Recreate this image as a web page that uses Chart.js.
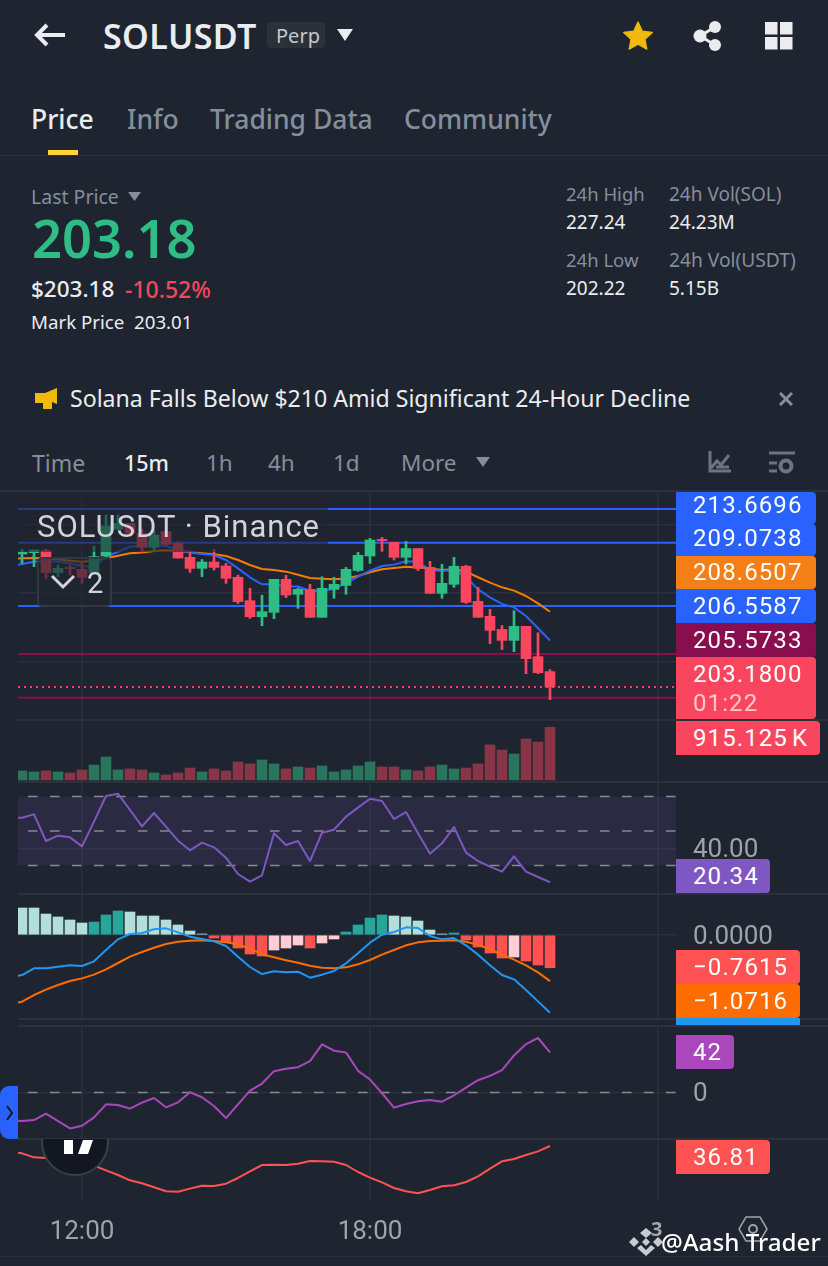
<!DOCTYPE html>
<html>
<head>
<meta charset="utf-8">
<title>SOLUSDT Perp</title>
<script src="https://cdn.jsdelivr.net/npm/chart.js@4/dist/chart.umd.min.js"></script>
<style>
  html, body { margin: 0; padding: 0; background: #1f2530; }
  body { position: relative; width: 828px; height: 1266px; overflow: hidden; font-family: "Noto Sans", sans-serif; }
  .t { position: absolute; white-space: nowrap; line-height: 1; transform: translateY(-50%); }
  .grey { color: #848e9c; }
  .white { color: #eaecef; }
  canvas { position: absolute; left: 0; display: block; }
  .sep { position: absolute; height: 2px; background: #2b303a; }
  .tag { position: absolute; left: 676px; color: #fff; font-family: Roboto, sans-serif; font-size: 24px;
         letter-spacing: 1.1px; padding-left: 17px; box-sizing: border-box; border-radius: 0 4px 4px 0;
         display: flex; align-items: center; white-space: nowrap; }
  svg { position: absolute; }
</style>
</head>
<body>

<!-- header -->
<svg style="left:34px;top:22px" width="34" height="26" viewBox="0 0 34 26"><path d="M31 13H4M13 3L3 13l10 10" fill="none" stroke="#eaecef" stroke-width="4"/></svg>
<div class="t white" style="left:103px;top:36px;font-size:34px;font-weight:600;letter-spacing:.4px">SOLUSDT</div>
<div style="position:absolute;left:267px;top:22px;width:58px;height:26px;background:#2b3139;border-radius:4px"></div>
<div class="t" style="left:276px;top:36px;font-size:20px;color:#c4c9d1">Perp</div>
<svg style="left:337px;top:29px" width="16" height="12"><path d="M0 0h16L8 12z" fill="#eaecef"/></svg>
<svg style="left:622px;top:20px" width="32" height="32" viewBox="0 0 24 24"><path d="M12 1.5l3.2 6.9 7.5.9-5.5 5.1 1.4 7.4L12 18.2l-6.6 3.6 1.4-7.4L1.300 9.300l7.5-.9z" fill="#f0b90b" stroke="#f0b90b" stroke-linejoin="round"/></svg>
<svg style="left:692px;top:20px" width="32" height="32"><circle cx="8" cy="16" r="6.500" fill="#eaecef"/><circle cx="23" cy="7" r="6" fill="#eaecef"/><circle cx="23" cy="25" r="6" fill="#eaecef"/><path d="M23 7L8 16l15 9" fill="none" stroke="#eaecef" stroke-width="3"/></svg>
<svg style="left:765px;top:22px" width="28" height="28"><path d="M0 0h12.500v12.500H0zM15 0h12.500v12.500H15zM0 15h12.500v12.500H0zM15 15h12.500v12.500H15z" fill="#eaecef"/></svg>

<!-- tabs -->
<div class="t white" style="left:31px;top:119px;font-size:26.500px;font-weight:500">Price</div>
<div class="t grey" style="left:127px;top:119px;font-size:26.500px;font-weight:500">Info</div>
<div class="t grey" style="left:210px;top:119px;font-size:26.500px;font-weight:500">Trading Data</div>
<div class="t grey" style="left:404px;top:119px;font-size:26.500px;font-weight:500">Community</div>
<div style="position:absolute;left:48px;top:150px;width:30px;height:5px;background:#fcd535"></div>
<div class="sep" style="left:0;top:155px;width:828px;height:1px"></div>

<!-- price block -->
<div class="t grey" style="left:31px;top:197px;font-size:19.500px">Last Price</div>
<svg style="left:128px;top:192px" width="13" height="9"><path d="M0 0h13L6.500 9z" fill="#848e9c"/></svg>
<div class="t" style="left:32px;top:238px;font-size:52.500px;font-weight:600;color:#2ebd85">203.18</div>
<div class="t white" style="left:31px;top:289px;font-size:22.500px;font-weight:500">$203.18</div>
<div class="t" style="left:125px;top:289px;font-size:23px;font-weight:500;color:#f6465d">-10.52%</div>
<div class="t white" style="left:31px;top:322px;font-size:18.700px">Mark Price</div>
<div class="t white" style="left:134px;top:322px;font-size:18.700px">203.01</div>

<div class="t grey" style="left:566px;top:194px;font-size:18.500px">24h High</div>
<div class="t white" style="left:566px;top:222px;font-size:19px">227.24</div>
<div class="t grey" style="left:566px;top:260px;font-size:18.500px">24h Low</div>
<div class="t white" style="left:566px;top:288px;font-size:19px">202.22</div>
<div class="t grey" style="left:669px;top:194px;font-size:19px">24h Vol(SOL)</div>
<div class="t white" style="left:669px;top:222px;font-size:19px">24.23M</div>
<div class="t grey" style="left:669px;top:260px;font-size:19.200px">24h Vol(USDT)</div>
<div class="t white" style="left:669px;top:288px;font-size:19px">5.15B</div>

<!-- notice -->
<svg style="left:34px;top:387px" width="24" height="23"><path d="M1 6h10L23 1v16l-5-2v7h-9v-6H1z" fill="#f0b90b"/></svg>
<div class="t white" style="left:70px;top:399px;font-size:23.100px">Solana Falls Below $210 Amid Significant 24-Hour Decline</div>
<svg style="left:779px;top:392px" width="14" height="14"><path d="M1 1l12 12M13 1L1 13" stroke="#848e9c" stroke-width="3"/></svg>

<!-- intervals -->
<div class="t grey" style="left:32px;top:463px;font-size:23px">Time</div>
<div class="t" style="left:124px;top:463px;font-size:21.500px;font-weight:500;color:#eaecef">15m</div>
<div class="t grey" style="left:206px;top:463px;font-size:22.500px">1h</div>
<div class="t grey" style="left:268px;top:463px;font-size:22.500px">4h</div>
<div class="t grey" style="left:333px;top:463px;font-size:22.500px">1d</div>
<div class="t grey" style="left:401px;top:463px;font-size:22.500px">More</div>
<svg style="left:476px;top:457px" width="14" height="10"><path d="M0 0h14L7 10z" fill="#848e9c"/></svg>
<svg style="left:708px;top:450px" width="24" height="24"><path d="M2 1v20h21M3 18l6-7 4 4 8-10M8 17h13" fill="none" stroke="#6c7480" stroke-width="3"/></svg>
<svg style="left:768px;top:450px" width="28" height="26"><path d="M1 3h26M1 13h8M1 21h8" fill="none" stroke="#6c7480" stroke-width="3"/><circle cx="18" cy="16" r="5.500" fill="none" stroke="#6c7480" stroke-width="4"/></svg>

<!-- panes -->
<div class="sep" style="left:0;top:490px;width:828px"></div>
<canvas id="pricePane" width="828" height="229" style="top:491px"></canvas>
<div class="sep" style="left:18px;top:719px;width:810px"></div>
<canvas id="volumePane" width="828" height="62" style="top:720px"></canvas>
<div class="sep" style="left:18px;top:781px;width:810px"></div>
<canvas id="rsiPane" width="828" height="112" style="top:782px"></canvas>
<div class="sep" style="left:18px;top:893px;width:810px"></div>
<canvas id="macdPane" width="828" height="125" style="top:894px"></canvas>
<div class="sep" style="left:18px;top:1018px;width:810px"></div>
<div class="sep" style="left:18px;top:1025px;width:810px"></div>
<canvas id="cciPane" width="828" height="113" style="top:1026px"></canvas>
<div class="sep" style="left:18px;top:1138px;width:810px"></div>
<canvas id="adxPane" width="828" height="117" style="top:1139px"></canvas>
<div class="sep" style="left:0;top:1256px;width:828px;height:1px"></div>

<!-- chart overlays -->
<div style="position:absolute;left:18px;top:492px;width:310px;height:60px;background:rgba(31,37,48,.6)"></div>
<div class="t" style="left:37px;top:526px;font-family:Roboto,sans-serif;font-size:31px;letter-spacing:1px;color:#d1d4dc">SOLUSDT · Binance</div>
<div style="position:absolute;left:37px;top:557px;width:75px;height:50px;box-sizing:border-box;border:2px solid #323742;border-radius:5px;background:rgba(31,37,48,.65)"></div>
<svg style="left:50px;top:574px" width="26" height="16"><path d="M2 2l11 11L24 2" fill="none" stroke="#d1d4dc" stroke-width="3"/></svg>
<div class="t" style="left:87px;top:583px;font-family:Roboto,sans-serif;font-size:29px;color:#d1d4dc">2</div>

<div style="position:absolute;left:40px;top:1139px;width:70px;height:38px;overflow:hidden">
  <svg style="left:0;top:0" width="70" height="38"><circle cx="35" cy="3" r="33" fill="#131722" stroke="#3b3f49" stroke-width="2"/><path d="M24 1h9v14h-9zM43 1h10l-5 14H38z" fill="#fff"/></svg>
</div>
<div style="position:absolute;left:0;top:1086px;width:18px;height:53px;background:#2962ff;border-radius:9px 0 0 9px"></div>
<svg style="left:5px;top:1105px" width="9" height="16"><path d="M2 1l5 7-5 7" fill="none" stroke="#131722" stroke-width="2"/></svg>

<!-- value tags -->
<div class="tag" style="top:492px;height:32px;width:140px;background:#2962ff;padding-bottom:7px">213.6696</div>
<div class="tag" style="top:524px;height:31.500px;width:140px;background:#2962ff;padding-bottom:3px">209.0738</div>
<div class="tag" style="top:555.500px;height:33.500px;width:140px;background:#f57f17">208.6507</div>
<div class="tag" style="top:589px;height:34px;width:140px;background:#2962ff">206.5587</div>
<div class="tag" style="top:623px;height:34px;width:140px;background:#880e4f">205.5733</div>
<div class="tag" style="top:657px;height:62px;width:140px;background:#f9465e;display:block;padding-top:3px;line-height:29px">203.1800<br><span style="opacity:.7">01:22</span></div>
<div class="tag" style="top:721px;height:34px;width:144px;background:#f9465e;word-spacing:-3px">915.125 K</div>
<div class="tag" style="top:859px;height:34px;width:94px;background:#7e57c2">20.34</div>
<div class="tag" style="top:950px;height:34px;width:124px;background:#ff5252">−0.7615</div>
<div class="tag" style="top:984px;height:34px;width:124px;background:#ff6d00">−1.0716</div>
<div class="tag" style="top:1018px;height:7px;width:124px;background:#2196f3;border-radius:0"></div>
<div class="tag" style="top:1035px;height:34px;width:58px;background:#ab47bc">42</div>
<div class="tag" style="top:1140px;height:34px;width:94px;background:#ff5252">36.81</div>

<!-- watermark -->
<svg style="left:629px;top:1227px" width="34" height="30" viewBox="0 0 34 30"><path d="M17 1l6 5-6 5-6-5zM5 10l5 5-5 5-5-5zM29 10l5 5-5 5-5-5zM17 11l4 4-4 4-4-4zM17 29L8 21l4-3 5 5 5-5 4 3z" fill="#c8ccd2"/></svg>
<div class="t" style="left:651px;top:1229px;font-size:20px;font-weight:700;color:#a1a5ad">3</div>
<svg style="left:738px;top:1215px" width="30" height="28"><path d="M8 2h14l7 12-7 12H8L1 14z" fill="none" stroke="#9ea3ab" stroke-width="1.500"/><circle cx="15" cy="14" r="4" fill="none" stroke="#9ea3ab" stroke-width="2"/></svg>
<div class="t" style="left:661px;top:1242px;font-size:24.200px;font-weight:500;color:#fff">@Aash Trader</div>

<script>
// ── Data ────────────────────────────────────────────
const candleIndex = Array.from({ length: 45 }, (_, i) => i);

const opens = [212.85, 212.95, 213.09, 211.50, 211.88, 211.74, 211.50, 212.71, 214.65, 215.08, 214.36, 213.34, 214.48, 213.63, 212.61, 211.81, 212.27, 211.98, 211.16, 209.46, 208.29, 208.61, 211.01, 209.92, 210.28, 208.25, 210.28, 210.57, 211.65, 212.71, 213.92, 213.70, 212.61, 213.25, 211.88, 209.99, 210.65, 211.96, 209.41, 208.32, 207.37, 206.57, 207.59, 205.39, 204.30];
const closes = [213.00, 213.14, 211.50, 211.81, 211.79, 211.16, 212.66, 214.89, 215.08, 214.36, 213.34, 214.23, 213.56, 212.56, 211.81, 212.27, 211.88, 211.08, 209.39, 208.29, 208.66, 211.01, 209.87, 210.28, 208.25, 210.36, 210.65, 211.74, 212.76, 213.87, 213.82, 212.61, 213.25, 211.81, 209.99, 210.72, 211.96, 209.34, 208.25, 207.30, 206.57, 207.59, 205.24, 204.22, 203.18];
const highs = [213.19, 213.14, 213.19, 212.05, 212.05, 212.30, 213.43, 215.69, 215.69, 215.08, 214.65, 214.60, 214.65, 213.75, 213.02, 212.45, 213.19, 212.17, 211.32, 210.36, 209.85, 211.01, 211.30, 210.36, 210.65, 211.20, 211.16, 211.88, 212.97, 213.99, 214.06, 213.70, 213.77, 213.25, 212.32, 212.10, 212.61, 212.03, 210.43, 208.83, 207.65, 208.73, 207.59, 207.13, 204.44];
const lows = [212.17, 211.93, 211.08, 211.20, 211.32, 210.72, 211.50, 212.66, 214.60, 214.23, 212.95, 213.02, 213.51, 212.56, 211.52, 211.20, 211.69, 210.72, 209.26, 208.17, 207.64, 208.15, 209.68, 208.90, 208.25, 208.25, 209.63, 209.92, 211.59, 212.17, 213.05, 212.42, 212.13, 211.65, 209.99, 209.63, 210.43, 209.26, 208.25, 206.33, 205.90, 205.75, 204.15, 204.15, 202.26];
const volumes = [156, 139, 156, 139, 122, 174, 260, 399, 174, 191, 174, 122, 87, 122, 208, 139, 191, 156, 313, 278, 347, 278, 191, 226, 208, 243, 139, 174, 243, 313, 226, 226, 174, 156, 226, 260, 191, 208, 278, 608, 521, 451, 712, 660, 915.125];
const histogram = [0.628, 0.628, 0.488, 0.419, 0.349, 0.279, 0.302, 0.465, 0.558, 0.535, 0.442, 0.442, 0.349, 0.233, 0.093, 0.023, -0.070, -0.163, -0.302, -0.442, -0.488, -0.349, -0.302, -0.233, -0.302, -0.186, -0.093, 0.070, 0.233, 0.395, 0.465, 0.442, 0.419, 0.326, 0.116, 0.023, 0.047, -0.116, -0.279, -0.419, -0.535, -0.512, -0.605, -0.698, -0.7615];

// Line series: the first value belongs to the candle just off the left edge
const maFast = [211.98, 212.12, 212.29, 212.37, 212.29, 212.17, 211.98, 211.93, 212.66, 213.02, 213.39, 213.43, 213.51, 213.43, 213.14, 212.97, 212.85, 212.78, 212.42, 211.81, 211.16, 210.65, 210.65, 210.49, 210.49, 210.16, 210.16, 210.31, 210.72, 211.20, 211.64, 211.98, 212.08, 212.32, 212.29, 211.69, 211.62, 211.69, 211.16, 210.28, 209.70, 209.22, 208.97, 208.34, 207.45, 206.5587];
const maSlow = [212.51, 212.54, 212.56, 212.54, 212.45, 212.37, 212.29, 212.37, 212.54, 212.73, 212.90, 212.97, 213.07, 213.12, 213.07, 213.00, 212.90, 212.83, 212.71, 212.42, 212.05, 211.76, 211.69, 211.57, 211.35, 211.11, 211.06, 211.01, 211.08, 211.25, 211.52, 211.74, 211.83, 211.93, 211.88, 211.79, 211.69, 211.74, 211.57, 211.16, 210.77, 210.43, 210.19, 209.80, 209.26, 208.6507];
const rsi = [57.73, 57.73, 59.66, 44.20, 47.29, 46.33, 41.11, 55.41, 70.29, 71.64, 62.17, 52.71, 60.43, 52.51, 44.39, 38.79, 43.24, 40.53, 34.54, 25.07, 20.63, 24.30, 48.65, 41.88, 44.20, 32.61, 49.03, 50.77, 58.31, 63.53, 68.74, 67.39, 56.96, 61.01, 48.65, 36.86, 42.85, 52.32, 37.44, 32.61, 29.32, 26.42, 35.31, 26.42, 23.33, 20.34];
const macdLine = [-0.977, -0.930, -0.775, -0.775, -0.736, -0.705, -0.721, -0.612, -0.349, -0.101, 0.023, 0.047, 0.132, 0.155, 0.062, -0.039, -0.093, -0.147, -0.256, -0.504, -0.744, -0.907, -0.845, -0.868, -0.853, -0.992, -0.922, -0.837, -0.659, -0.426, -0.178, 0.008, 0.070, 0.178, 0.163, -0.023, -0.101, -0.070, -0.240, -0.457, -0.705, -0.930, -1.031, -1.279, -1.543, -1.806];
const signalLine = [-1.605, -1.550, -1.395, -1.271, -1.163, -1.070, -1.008, -0.922, -0.798, -0.651, -0.504, -0.395, -0.295, -0.209, -0.155, -0.132, -0.124, -0.140, -0.171, -0.217, -0.310, -0.450, -0.519, -0.589, -0.643, -0.713, -0.760, -0.775, -0.752, -0.682, -0.581, -0.457, -0.349, -0.240, -0.171, -0.140, -0.132, -0.124, -0.155, -0.225, -0.333, -0.457, -0.574, -0.705, -0.868, -1.0716];
const cci = [-29.05, -29.75, -28.70, -22.05, -29.75, -37.45, -34.65, -25.90, -12.25, -12.95, -16.80, -10.50, -5.60, -15.40, -10.15, 0.35, -4.90, -14.00, -26.60, -12.25, 2.10, 9.45, 22.40, 24.85, 26.60, 32.90, 50.40, 43.75, 42.00, 22.75, 13.65, -0.70, -15.75, -11.90, -9.10, -7.70, -9.45, -2.80, 5.25, 12.95, 17.50, 23.45, 38.85, 50.75, 57.05, 42.00];
const adx = [34.17, 33.40, 31.54, 31.23, 30.76, 29.99, 29.06, 27.66, 25.50, 23.33, 20.84, 19.45, 17.59, 15.73, 15.57, 16.97, 18.36, 18.21, 19.29, 21.93, 25.03, 27.97, 28.13, 27.97, 28.59, 29.83, 29.68, 29.52, 27.97, 24.72, 22.08, 19.91, 17.28, 15.73, 14.80, 16.35, 18.05, 18.52, 20.07, 22.70, 26.27, 29.68, 30.76, 32.62, 34.33, 36.81];

// Horizontal levels
const blueLevels = [216.13, 213.6696, 209.0738];
const crimsonLevels = [205.5733, 202.40];
const lastPrice = 203.18;
const rsiLevels = [70, 50, 30];
const cciZero = 0;

// Axis ticks
const timeTicks = [5, 29, 53];
const timeLabels = ['12:00', '18:00', ''];
const priceGrid = [205, 210, 215];
const rsiGrid = [40];
const macdGrid = [0];
const cciGrid = [0];
const adxGrid = [];

// ── Styling ─────────────────────────────────────────
const GRID = '#2b303a';
const UP = '#2ebd85', DOWN = '#f9465e';
const UP_DIM = '#2a755e', DOWN_DIM = '#873547';
const AXIS_FONT = { family: 'Roboto', size: 26 };
const X_MIN = -1 / 3, X_MAX = 54.5;   // candle 0 sits at 22px, 12px per candle, plot ends at 676px

Chart.defaults.animation = false;

const lineSeries = (values, color, width = 2) => ({
  type: 'line',
  data: values.map((v, i) => ({ x: i - 1, y: v })),
  borderColor: color,
  borderWidth: width,
  borderJoinStyle: 'round',
  pointRadius: 0,
  tension: 0,
});

const levelLine = (value, color, width, dash) => ({
  type: 'line',
  data: [{ x: X_MIN - 1, y: value }, { x: X_MAX + 1, y: value }],
  borderColor: color,
  borderWidth: width,
  borderDash: dash || [],
  pointRadius: 0,
});

const barSeries = (data, colors, thickness) => ({
  type: 'bar',
  data,
  backgroundColor: colors,
  barThickness: thickness,
  grouped: false,
  borderWidth: 0,
  borderSkipped: false,
});

function makePane(id, min, max, datasets, gridValues, tickText, bottomAxis) {
  return new Chart(document.getElementById(id), {
    data: { datasets },
    options: {
      responsive: false,
      events: [],
      layout: { padding: { left: 18, right: 0, top: 0, bottom: 0 } },
      plugins: { legend: { display: false }, tooltip: { enabled: false } },
      scales: {
        x: {
          type: 'linear',
          min: X_MIN,
          max: X_MAX,
          offset: false,
          border: { display: false },
          grid: { color: GRID, lineWidth: 1.5, drawTicks: false, offset: false },
          ticks: {
            display: !!bottomAxis,
            autoSkip: false,
            maxRotation: 0,
            padding: 17,
            color: '#9ea3ab',
            font: AXIS_FONT,
            callback: v => timeLabels[timeTicks.indexOf(v)] ?? '',
          },
          afterBuildTicks: s => { s.ticks = timeTicks.map(value => ({ value })); },
          afterFit: s => { s.height = bottomAxis ? 56 : 0; },
        },
        y: {
          type: 'linear',
          position: 'right',
          min,
          max,
          border: { display: false },
          grid: { color: GRID, lineWidth: 1.5, drawTicks: false },
          ticks: {
            autoSkip: false,
            padding: 17,
            labelOffset: 2,
            color: '#9ea3ab',
            font: AXIS_FONT,
            callback: tickText,
          },
          afterBuildTicks: s => { s.ticks = gridValues.map(value => ({ value })); },
          afterFit: s => { s.width = 152; s.paddingTop = 0; s.paddingBottom = 0; },
        },
      },
    },
  });
}

// ── Price pane ──────────────────────────────────────
const isUp = candleIndex.map(i => closes[i] >= opens[i]);
makePane('pricePane', 200.78, 217.435, [
  barSeries(candleIndex.map(i => ({ x: i, y: [opens[i], closes[i]] })), isUp.map(u => (u ? UP : DOWN)), 10),
  barSeries(candleIndex.map(i => ({ x: i, y: [lows[i], highs[i]] })), isUp.map(u => (u ? UP : DOWN)), 2),
  lineSeries(maFast, '#2962ff', 2),
  lineSeries(maSlow, '#f57c00', 2),
  ...blueLevels.map(v => levelLine(v, '#2962ff', 2)),
  ...crimsonLevels.map(v => levelLine(v, '#880e4f', 2)),
  levelLine(lastPrice, DOWN, 2, [2, 4]),
], priceGrid, () => '');

// ── Volume pane ─────────────────────────────────────
makePane('volumePane', -35, 1042, [
  barSeries(candleIndex.map(i => ({ x: i, y: volumes[i] })), isUp.map(u => (u ? UP_DIM : DOWN_DIM)), 10),
], [], () => '');

// ── RSI pane ────────────────────────────────────────
makePane('rsiPane', 13.48, 78.41, [
  lineSeries(rsi, '#7e57c2', 2),
  ...rsiLevels.map(v => levelLine(v, '#868a92', 1.5, [9.5, 12.5])),
  { ...levelLine(rsiLevels[0], 'transparent', 0), fill: { value: rsiLevels[2] }, backgroundColor: 'rgba(126,87,194,0.12)' },
], rsiGrid, v => v.toFixed(2));

// ── MACD pane ───────────────────────────────────────
const histColors = histogram.map((v, i) => {
  const rising = i > 0 && v > histogram[i - 1];
  if (v >= 0) return rising ? '#26a69a' : '#b2dfdb';
  return rising ? '#ffcdd2' : '#ff5252';
});
makePane('macdPane', -1.953, 0.9535, [
  lineSeries(macdLine, '#2196f3', 2),
  lineSeries(signalLine, '#ff6d00', 2),
  barSeries(candleIndex.map(i => ({ x: i, y: histogram[i] })), histColors, 10),
], macdGrid, v => v.toFixed(4));

// ── CCI pane ────────────────────────────────────────
makePane('cciPane', -48.5, 69.6, [
  lineSeries(cci, '#ab47bc', 2),
  levelLine(cciZero, '#868a92', 1.5, [9.5, 12.5]),
], cciGrid, v => String(v));

// ── ADX pane with the time axis ─────────────────────
makePane('adxPane', 11.69, 40.07, [
  lineSeries(adx, '#ff5252', 2),
], adxGrid, () => '', true);
</script>
</body>
</html>
